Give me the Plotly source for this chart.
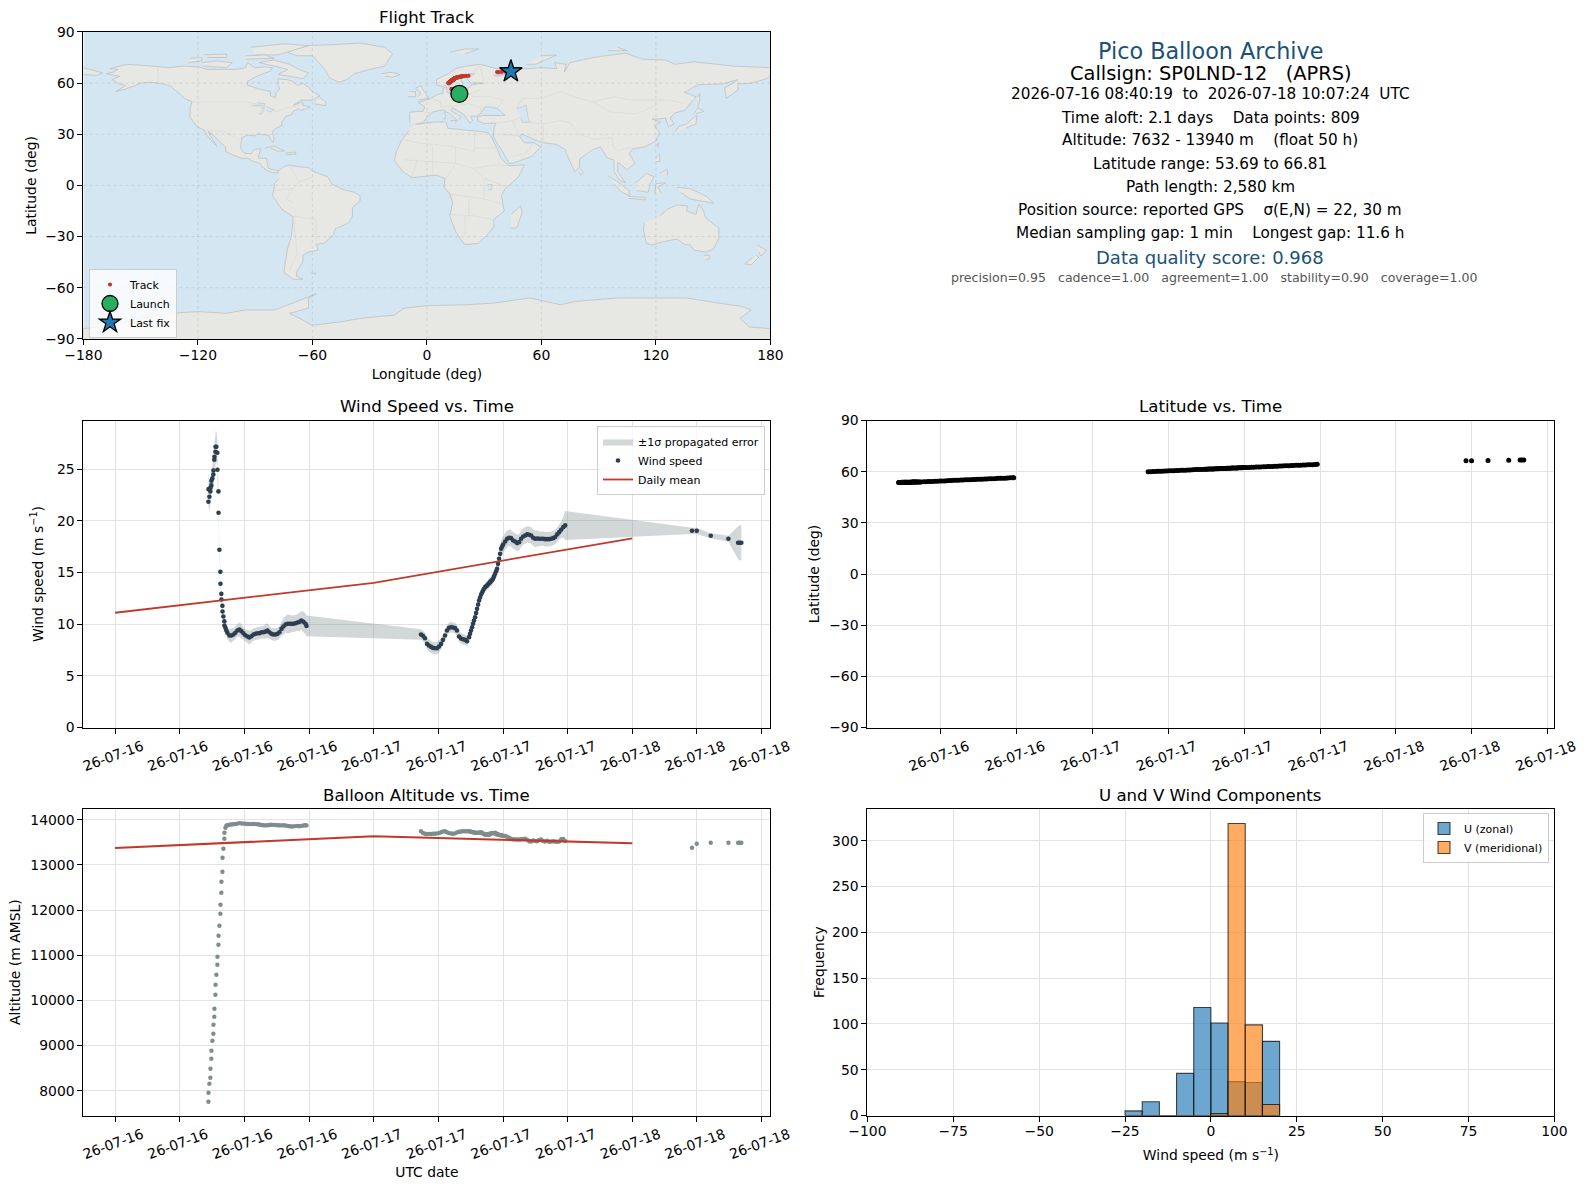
from datetime import datetime, timedelta
import plotly.graph_objects as go

W, H = 1588, 1189
FONT = "DejaVu Sans"

# ---------------- series (hours after 2026-07-16 00:00 UTC)
hours_ascent = [8.66,8.67,8.75,8.84,8.85,8.93,8.94,9.03,9.12,9.13,9.21,9.22,9.31,9.32,9.40,9.49,9.50,9.59,9.60,9.68,9.77,9.78,9.86,9.87,9.96,9.97,10.05,10.14,10.15,10.24,10.33]
hours_float1 = [10.42,10.61,10.79,10.98,11.16,11.35,11.54,11.72,11.91,12.09,12.28,12.46,12.65,12.84,13.02,13.21,13.39,13.58,13.76,13.95,14.14,14.32,14.51,14.69,14.88,15.07,15.25,15.44,15.62,15.81,15.99,16.18,16.37,16.55,16.74,16.92,17.11,17.29,17.48,17.67,17.76]
hours_float2 = [28.39,28.57,28.76,28.95,29.13,29.32,29.50,29.69,29.88,30.06,30.25,30.43,30.62,30.80,30.99,31.18,31.36,31.55,31.73,31.92,32.11,32.29,32.48,32.66,32.85,33.03,33.22,33.41,33.59,33.78,33.97,34.15,34.34,34.52,34.71,34.89,35.08,35.27,35.45,35.64,35.82,36.01,36.20,36.38,36.57,36.75,36.94,37.13,37.31,37.50,37.68,37.87,38.05,38.24,38.43,38.61,38.80,38.98,39.17,39.36,39.54,39.73,39.91,40.10,40.29,40.47,40.66,40.84,41.03,41.21,41.40,41.59,41.77]
hours_rise = [32.94,33.13,33.31,33.50,33.69,33.87,34.06,34.24,34.43,34.61,34.80,34.99,35.17,35.36,35.54,35.73,35.92]
hours_final = [53.54,53.98,55.28,56.92,57.82,57.95,58.12]

wind_ascent = [21.84,23.06,22.32,22.84,23.19,23.42,23.87,24.10,24.48,24.87,25.90,26.20,26.68,27.16,27.16,26.58,24.94,22.84,20.77,17.19,15.06,13.90,12.93,12.38,11.77,11.22,10.74,10.28,9.87,9.64,9.38]
wind_float1 = [9.16,8.90,8.90,9.00,9.16,9.38,9.48,9.32,9.12,8.93,8.80,8.70,8.83,9.00,9.06,9.12,9.12,9.22,9.22,9.28,9.38,9.22,9.06,9.00,9.00,9.06,9.22,9.54,9.77,9.96,10.03,10.03,10.03,10.03,10.09,10.16,10.22,10.35,10.22,10.03,9.83]
wind_float2 = [9.00,8.87,8.64,8.09,7.93,7.80,7.70,7.67,7.67,7.83,8.09,8.48,8.90,9.38,9.64,9.70,9.67,9.61,9.38,8.80,8.61,8.54,8.48,8.35,8.74,9.38,10.03,10.67,11.48,12.29,12.87,13.25,13.58,13.74,13.96,14.16,14.38,14.87,15.35,16.32,17.29,17.71,18.00,18.26,18.35,18.32,18.09,18.00,17.84,17.93,18.26,18.48,18.58,18.68,18.64,18.58,18.35,18.26,18.29,18.26,18.26,18.26,18.22,18.22,18.22,18.26,18.32,18.42,18.68,18.90,19.13,19.38,19.55]
wind_rise = [9.06,9.70,10.35,11.07,11.89,12.58,13.06,13.42,13.66,13.85,14.06,14.27,14.62,15.11,15.83,16.80,17.50]
wind_final = [19.03,19.03,18.55,18.26,17.87,17.87,17.87]

sigma_ascent = [1.5,1.6,1.4,1.3,1.2,1.2,1.2,1.2,1.3,1.3,1.4,1.4,1.5,1.5,1.5,1.3,1.0,0.7,0.5,0.4,0.3,0.3,0.3,0.3,0.3,0.3,0.3,0.3,0.4,0.5,0.5]
sigma_float1 = [.6,.6,.7,.6,.6,.6,.7,.7,.6,.6,.6,.7,.6,.6,.6,.6,.6,.6,.6,.7,.7,.6,.6,.6,.6,.6,.6,.7,.8,.8,.9,.9,.8,.8,.8,.8,.9,.9,1.0,1.0,1.0]
sigma_float2 = [.5,.5,.5,.5,.6,.6,.6,.6,.6,.6,.5,.5,.5,.5,.5,.5,.5,.5,.5,.5,.5,.5,.5,.5,.5,.4,.4,.4,.4,.4,.4,.4,.4,.4,.5,.5,.5,.5,.5,.6,.7,.8,.8,.8,.8,.8,.8,.8,.8,.8,.8,.8,.8,.8,.8,.8,.8,.8,.8,.7,.7,.7,.7,.7,.7,.7,.7,.7,.7,.7,.8,1.0,1.4]
sigma_rise = [.4,.4,.4,.4,.4,.4,.4,.4,.4,.5,.5,.5,.5,.5,.6,.6,.8]
sigma_final = [.3,.3,.25,.3,1.6,1.7,1.7]

alt_ascent = [7757,7956,8155,8288,8487,8708,8886,9107,9262,9461,9638,9815,10125,10347,10568,10790,10967,11233,11432,11653,11919,12118,12384,12627,12849,13159,13358,13579,13712,13823,13867]
alt_float1 = [13880,13889,13895,13900,13905,13915,13926,13920,13915,13911,13908,13905,13904,13905,13904,13900,13895,13885,13878,13875,13880,13885,13889,13888,13885,13880,13878,13875,13878,13872,13865,13858,13852,13855,13860,13862,13858,13866,13872,13878,13875]
alt_float2 = [13745,13710,13690,13685,13688,13685,13690,13690,13700,13705,13725,13740,13745,13725,13705,13695,13690,13700,13720,13735,13742,13745,13745,13745,13745,13735,13725,13715,13710,13715,13725,13695,13670,13680,13665,13690,13705,13715,13690,13670,13665,13650,13640,13625,13605,13580,13570,13565,13565,13565,13570,13575,13580,13560,13525,13520,13545,13530,13525,13555,13565,13530,13520,13535,13515,13520,13525,13520,13515,13520,13570,13575,13530]
alt_rise = [13740,13730,13720,13712,13712,13720,13710,13682,13672,13672,13698,13710,13702,13680,13667,13658,13645]
alt_final = [13380,13469,13491,13491,13491,13491,13491]

lat_ascent = [53.69,53.70,53.71,53.72,53.72,53.73,53.74,53.75,53.76,53.77,53.78,53.79,53.80,53.81,53.82,53.83,53.84,53.85,53.86,53.87,53.88,53.89,53.90,53.91,53.92,53.93,53.94,53.95,53.96,53.97,53.98]
lat_float1 = [54.0,54.1,54.1,54.2,54.2,54.3,54.4,54.4,54.5,54.6,54.6,54.7,54.8,54.8,54.9,54.9,55.0,55.1,55.1,55.2,55.2,55.3,55.4,55.4,55.5,55.6,55.6,55.7,55.7,55.8,55.9,55.9,56.0,56.1,56.1,56.2,56.2,56.3,56.4,56.4,56.5]
lat_float2 = [60.0,60.0,60.1,60.1,60.2,60.3,60.3,60.4,60.4,60.5,60.6,60.6,60.7,60.7,60.8,60.9,60.9,61.0,61.0,61.1,61.2,61.2,61.3,61.3,61.4,61.4,61.5,61.6,61.6,61.7,61.7,61.8,61.9,61.9,62.0,62.0,62.1,62.2,62.2,62.3,62.3,62.4,62.4,62.5,62.6,62.6,62.7,62.7,62.8,62.9,62.9,63.0,63.0,63.1,63.2,63.2,63.3,63.3,63.4,63.4,63.5,63.6,63.6,63.7,63.7,63.8,63.9,63.9,64.0,64.0,64.1,64.2,64.3]
lat_rise = [61.4,61.5,61.5,61.6,61.7,61.7,61.8,61.9,61.9,62.0,62.0,62.1,62.2,62.2,62.3,62.3,62.4]
lat_final = [66.45,66.46,66.50,66.70,66.81,66.81,66.81]

lon_ascent = [17.0,17.0,17.0,17.0,17.0,17.0,17.0,17.0,17.0,17.0,17.0,17.0,17.0,17.0,17.0,17.0,17.0,17.0,17.0,17.0,17.0,17.0,17.0,17.0,17.0,17.0,17.0,17.0,17.0,17.0,17.0]
lon_float1 = [16.9,16.8,16.7,16.6,16.5,16.4,16.3,16.2,16.1,16.0,15.9,15.8,15.7,15.6,15.5,15.4,15.3,15.2,15.1,15.0,14.9,14.8,14.7,14.6,14.5,14.4,14.3,14.2,14.1,14.0,13.9,13.8,13.7,13.6,13.5,13.4,13.3,13.2,13.1,13.0,12.9]
lon_float2 = [11.3,11.3,11.4,11.5,11.6,11.7,11.7,11.8,11.8,11.9,12.0,12.0,12.1,12.2,12.3,12.4,12.4,12.5,12.5,12.6,12.7,12.7,12.9,12.9,13.0,13.0,13.1,13.2,13.2,13.4,13.4,13.5,13.6,13.6,13.7,13.7,13.8,13.9,13.9,14.0,14.0,14.1,14.1,14.3,14.4,14.4,14.6,14.6,14.7,14.9,14.9,15.0,15.0,15.3,15.6,15.6,15.9,15.9,16.2,16.2,16.5,16.9,16.9,17.3,17.3,17.7,18.2,18.2,18.8,18.8,19.6,20.6,21.8]
lon_rise = [13.0,13.1,13.1,13.2,13.4,13.4,13.5,13.6,13.6,13.7,13.7,13.8,13.9,13.9,14.0,14.0,14.1]
lon_final = [36.8,37.6,39.0,41.0,43.0,43.5,44.0]

records = sorted(zip(hours_ascent + hours_float1 + hours_float2 + hours_rise + hours_final,
                     wind_ascent + wind_float1 + wind_float2 + wind_rise + wind_final,
                     sigma_ascent + sigma_float1 + sigma_float2 + sigma_rise + sigma_final,
                     alt_ascent + alt_float1 + alt_float2 + alt_rise + alt_final,
                     lat_ascent + lat_float1 + lat_float2 + lat_rise + lat_final,
                     lon_ascent + lon_float1 + lon_float2 + lon_rise + lon_final), key=lambda r: r[0])
hours, wind, sigma, altitude, latitude, longitude = [list(c) for c in zip(*records)]

daily_dates = ["2026-07-16", "2026-07-17", "2026-07-18"]
daily_wind = [11.1, 14.0, 18.3]
daily_alt = [13375, 13635, 13480]

launch_pos = (17.0, 53.69)
last_pos = (44.0, 66.81)

hist_centers = [-22.5, -17.5, -12.5, -7.5, -2.5, 2.5, 7.5, 12.5, 17.5]
hist_u = [5, 15, 0, 46, 118, 101, 37, 36, 81]
hist_v = [0, 0, 0, 0, 0, 2, 319, 99, 12]

tick_text_16 = "26-07-16"
tick_text_17 = "26-07-17"
tick_text_18 = "26-07-18"
left_tick_dates = ["2026-07-16 00:00","2026-07-16 06:00","2026-07-16 12:00","2026-07-16 18:00","2026-07-17 00:00","2026-07-17 06:00","2026-07-17 12:00","2026-07-17 18:00","2026-07-18 00:00","2026-07-18 06:00","2026-07-18 12:00"]
left_tick_text = [tick_text_16]*4 + [tick_text_17]*4 + [tick_text_18]*3
right_tick_dates = left_tick_dates[2:]
right_tick_text = left_tick_text[2:]

lon_ticks = [-180,-120,-60,0,60,120,180]
lat_ticks = [-90,-60,-30,0,30,60,90]

# ---------------- land outlines (lon, lat)
north_america = [(-168,65.5),(-164,66.5),(-162,68),(-166,68.5),(-157,71),(-150,70.5),(-141,69.7),(-135,69),(-128,70),(-120,69.5),(-115,68),(-108,68),(-100,68),(-95,69),(-94,72),(-90,69),(-85,69.5),(-81,69),(-82,67),(-87,65),(-90,63.5),(-94,61),(-94,58.7),(-88,56.5),(-82,55),(-82,52.5),(-79.5,51.5),(-79,54.5),(-77,56.5),(-78,58.5),(-78,62.4),(-73,62),(-70,61),(-68,58.5),(-65,60),(-62,57.5),(-60,55),(-56,52.5),(-60,50),(-66,50),(-70,47),(-65,49),(-65,47),(-61,46),(-66,44),(-67,45),(-70,43.5),(-71,41.5),(-74,40.5),(-76,37),(-76,35),(-79,33.5),(-81,31.5),(-80,27),(-80.5,25.2),(-82,27),(-83,29.5),(-85,29.7),(-89,30.3),(-90,29),(-94,29.5),(-97,28),(-97.5,24),(-97.5,21.5),(-95.5,18.8),(-92,18.5),(-90.5,21),(-87,21.5),(-88,18),(-88.5,16),(-84,15.8),(-83.5,12),(-83,10),(-80,9),(-77.5,8.7),(-78,7.5),(-80.5,7.3),(-83,8.3),(-85.5,10),(-87.5,13),(-91,14),(-94,16),(-97,15.8),(-102,18),(-105.5,20),(-105.5,22.5),(-109,26),(-112.5,30),(-114.7,31.5),(-113,28),(-110,23),(-112,25),(-115,29),(-117,32.5),(-120.5,34.5),(-122.5,37.5),(-124.3,40.5),(-124,46),(-123,49),(-127,51),(-130,54),(-134,58),(-138,59.5),(-145,60.5),(-150,60),(-153,58.5),(-158,56.5),(-163,55),(-158,58.5),(-162,60),(-165,62),(-161,64),(-168,65.5)]
greenland = [(-73,78),(-68,76),(-60,76),(-55,70),(-53,67),(-51,63),(-46,60.5),(-42,62),(-38,65.5),(-30,68),(-22,70),(-20,74),(-18,77),(-22,81),(-35,83.5),(-50,82.5),(-62,82),(-73,78.5)]
baffin = [(-80,73.5),(-72,71),(-66,67.5),(-62,66),(-65,62.5),(-72,64),(-78,65),(-73,68),(-80,70),(-88,72),(-80,73.5)]
victoria_is = [(-117,70),(-105,69),(-102,72),(-110,73),(-118,72)]
ellesmere = [(-90,76.5),(-78,76.5),(-62,82),(-75,83),(-92,81)]
banks_is = [(-125,72),(-118,73),(-118,75),(-124,74.5)]
devon_is = [(-95,74),(-80,74.5),(-85,76.5),(-95,76)]
melville_is = [(-115,75),(-105,75),(-105,77),(-117,76.5)]
newfoundland = [(-59,47.8),(-53,46.8),(-53,49),(-56,51.5)]
cuba = [(-85,22),(-80,23),(-74.5,20.2),(-78,20),(-82,22)]
hispaniola = [(-74,19),(-69,19.5),(-68.5,18.3),(-74,18)]
iceland = [(-24,65.5),(-18,66.3),(-14,65),(-18,63.5),(-22,64)]
britain = [(-5,50),(1,51),(0,53),(-2,56),(-3,58.5),(-6,57),(-3,54),(-5,52)]
ireland = [(-10,52),(-6,52),(-6,55),(-9,55)]
svalbard = [(12,78),(20,80),(27,80),(20,77)]
novaya_zemlya = [(52,71),(57,71),(68,76.5),(60,76)]
severnaya = [(95,79),(105,79),(100,81)]
south_america = [(-77.5,8.7),(-75,11),(-72,12),(-68,11),(-62,10.5),(-60,8.5),(-52,5),(-50,1),(-44,-2.5),(-38,-4),(-35,-6),(-35,-9),(-39,-13),(-39,-18),(-41,-22),(-48,-25.5),(-49,-29),(-54,-34),(-58,-34.5),(-57,-38),(-62,-39),(-65,-41),(-65,-45),(-68,-50),(-68.5,-53),(-65,-55),(-70,-55),(-75,-51),(-74,-44),(-73,-37),(-71,-30),(-70,-18.5),(-76,-14),(-81,-6),(-80,-2),(-80,1),(-77.5,4)]
africa = [(-6,35.8),(3,37),(10,37.3),(11,33.5),(20,32.5),(25,32),(32,31),(34,28),(37,21),(39,15.5),(43,11.5),(51,12),(48,5),(41,-2),(39,-6),(40.5,-15),(35,-20),(35,-24),(32.5,-28),(27,-34),(20,-34.8),(18,-32),(15,-27),(12,-18),(13.5,-10),(12,-5),(9,-1),(9.5,4),(5,6),(-4,5),(-8,4.5),(-13,8.5),(-17,14.7),(-16,20),(-13,27),(-9.5,32)]
madagascar = [(44,-25),(47,-25),(50,-16),(49,-12),(44,-17)]
eurasia = [(-9,37),(-9,43),(-2,43.5),(-1,46),(-4.5,48.5),(2,51),(6,53.5),(8.5,54),(8.5,57),(10.5,57.5),(10.5,54.5),(14,54),(19,54.5),(21,56.5),(24,59.2),(30,60),(23,60),(21,62.5),(25,65.5),(22,65.5),(17.5,62),(19,59.5),(16.5,56.5),(13,55.5),(11,59),(8,58),(5,59),(5,62),(12,66),(15,68.5),(21,70),(28,71),(33,69.5),(41,67),(40,65),(35,64.5),(37,64),(44,66),(44,68),(54,68.5),(60,69),(68,68.5),(67,72),(73,71),(72,66.5),(75,72),(81,73.5),(90,75.5),(104,77.5),(113,74),(125,73.5),(130,71),(140,72.5),(160,70),(170,69.5),(180,69),(180,65),(178,62.5),(170,60),(163,59.5),(163,56),(157,51),(156,57),(163,62),(155,59.5),(142,59),(135,54.5),(141,52),(135,44),(130,42.5),(127.5,39.5),(129.5,36),(126.5,34.5),(125,39.5),(121,39),(118,39),(122.5,37),(119,35),(122,31),(120,26),(114,22.5),(108,21.5),(106,19),(109,13),(105,9),(103,11),(100,13.5),(100,8),(104,1.5),(101,3),(98,8),(98,15),(94.5,16),(91,22.5),(87,21),(80,15.5),(80,11),(77.5,8),(73,19),(72.5,21),(68,24),(61,25),(57,26.5),(50,30),(48.5,29),(51,25),(56,25),(59.5,22.5),(55,17),(45,13),(43,13),(39,21),(35,28),(35,32),(36,36.5),(30,36.3),(26.5,38),(26.5,40),(29,41),(41,41),(37,45),(33,46),(30.5,46),(28,42),(26,40.7),(23,40.5),(24,38),(22.5,36.5),(19.5,41.5),(13.5,45.5),(12.5,44),(18,40),(16,38),(12,42),(8.5,44.3),(3,43),(0,40),(-2,36.8),(-5.5,36)]
chukotka = [(-180,69),(-170,66),(-173,64.5),(-180,65)]
honshu = [(130,31.5),(132,34.5),(136,36),(140,40),(141.5,41),(141,36),(136,33.8)]
hokkaido = [(140,42),(142,45.5),(145,43.5),(141,42)]
sakhalin = [(142,46),(143,50),(143,54),(142,52)]
taiwan = [(120,23),(121.5,25),(121,22)]
sri_lanka = [(80,9.7),(82,7.5),(80.5,6),(79.7,8)]
luzon = [(120,16),(122,18.5),(122,14),(120,14)]
mindanao = [(122,7),(126,9.5),(126,6)]
borneo = [(109,1),(115,7),(119,5),(117,1),(116,-4),(110,-3)]
sumatra = [(95,5.5),(100,2),(106,-3),(106,-6),(102,-4),(98,1)]
java = [(105.5,-6.5),(114,-7),(114.5,-8.5),(106,-7.7)]
sulawesi = [(119.5,-5),(120,1),(125,1.5),(121,-1),(123,-5)]
new_guinea = [(131,-1),(138,-2),(146,-6),(150.5,-10.5),(143,-9),(138,-8),(133,-4)]
australia = [(114,-22),(113.5,-26),(115,-34),(118,-35),(124,-33),(131,-31.5),(135,-34.5),(138,-35),(140,-38),(146,-39),(150,-37.5),(153,-31),(153,-25),(146,-19),(145,-15),(142.5,-11),(141,-17),(136,-15),(136.5,-12),(131,-11.5),(126,-14),(122,-18)]
tasmania = [(145,-41),(148,-41),(148,-43),(146,-43.5)]
nz_north = [(173,-35),(178,-38),(175,-41.5),(174,-39)]
nz_south = [(172.5,-41),(174,-42),(170,-46.5),(166.5,-46),(171,-42)]
sicily = [(12.5,38),(15.5,38),(15,36.7)]
sardinia = [(8.5,39),(9.7,39),(9.5,43),(8.7,42)]
falklands = [(-61,-51.5),(-58,-51.5),(-59,-52.3)]
antarctica = [(-180,-90),(-180,-84),(-165,-82),(-150,-78),(-135,-75),(-120,-74),(-105,-75),(-95,-73),(-80,-73),(-75,-71),(-68,-68),(-58,-63.5),(-62,-66),(-62,-72),(-72,-75),(-65,-79),(-60,-82),(-45,-80),(-35,-78),(-17,-76),(-12,-72),(0,-70.5),(20,-70),(35,-69),(54,-66),(70,-70),(78,-68),(100,-66),(136,-66),(150,-68.5),(165,-71),(170,-73),(164,-78),(169,-83),(180,-84),(180,-90)]
land_shapes = [north_america, greenland, baffin, victoria_is, ellesmere, banks_is, devon_is, melville_is, newfoundland, cuba, hispaniola, iceland, britain, ireland, svalbard, novaya_zemlya, severnaya, south_america, africa, madagascar, eurasia, chukotka, honshu, hokkaido, sakhalin, taiwan, sri_lanka, luzon, mindanao, borneo, sumatra, java, sulawesi, new_guinea, australia, tasmania, nz_north, nz_south, sicily, sardinia, falklands, antarctica]

caspian = [(47,45),(52,47),(53,40),(54,37),(50,37),(49,40)]
superior = [(-92,46.7),(-85,46.7),(-85,48),(-89,48.5)]
michigan = [(-88,42),(-86.5,42),(-85,45.5),(-87,45.5)]
huron = [(-84,46),(-80,44.5),(-82,43),(-84,44)]
lake_victoria = [(32,-2.5),(34,-2.5),(34,0.5),(32,0.5)]
water_shapes = [caspian, superior, michigan, huron, lake_victoria]

border_lines = [
    [(-123,49),(-95,49),(-83,46),(-79,43),(-75,45),(-67,47)], [(-117,32.5),(-106,31.5),(-97,26)], [(-141,69.7),(-141,60)],
    [(87,49),(98,52),(107,50),(120,50),(127,50),(135,48)], [(87,49),(96,43),(110,42),(120,47)], [(50,51),(60,51),(70,55),(80,51),(87,49)],
    [(45,38),(48,30)], [(61,25),(61,36),(70,38),(75,37),(80,30),(88,27),(97,28),(98,22),(100,20),(105,22),(108,21.5)],
    [(50,51),(47,45)], [(54,37),(61,36)], [(36,36.5),(45,38),(49,40)], [(39,30),(48,29)], [(45,17),(52,19),(56,25)],
    [(-13,27),(-5,25),(12,23),(25,20),(25,32)], [(25,22),(36,22)], [(15,23),(15,13),(10,4)], [(24,10),(30,4),(42,-1)], [(12,-5),(30,-8),(40,-11)],
    [(12,-17),(25,-18),(35,-20)], [(20,-29),(20,-18)], [(-12,15),(15,13),(24,10),(36,12),(43,11.5)], [(-8,4.5),(-5,15)], [(3,6),(3,23)], [(30,4),(30,-8)], [(22,-18),(22,-8)],
    [(-70,-18),(-58,-20),(-58,-34)], [(-70,-10),(-74,-8),(-70,-2),(-67,2),(-60,5)], [(-70,-18),(-68,-40),(-72,-50)], [(-80,-3),(-70,-2)], [(-72,12),(-67,2)],
    [(-1.5,43),(3,42.5)], [(2.5,51),(7,49),(7.5,46),(14,46.5),(22,48),(28,45.5),(29,41)], [(14,54),(15,51),(22,49.5),(24,52),(23,54),(28,56)], [(30,60),(28,70)], [(24,66),(28,70)], [(12,60),(15,68.5)],
    [(24,52),(33,52),(40,50),(37,45)],
]

# ---------------- text
info_title = "Pico Balloon Archive"
info_call = "Callsign: SP0LND-12\u00a0\u00a0\u00a0(APRS)"
info_lines = [
    "2026-07-16 08:40:19\u00a0\u00a0to\u00a0\u00a02026-07-18 10:07:24\u00a0\u00a0UTC",
    "Time aloft: 2.1 days\u00a0\u00a0\u00a0\u00a0Data points: 809",
    "Altitude: 7632 - 13940 m\u00a0\u00a0\u00a0\u00a0(float 50 h)",
    "Latitude range: 53.69 to 66.81",
    "Path length: 2,580 km",
    "Position source: reported GPS\u00a0\u00a0\u00a0\u00a0\u03c3(E,N) = 22, 30 m",
    "Median sampling gap: 1 min\u00a0\u00a0\u00a0\u00a0Longest gap: 11.6 h",
]
info_score = "Data quality score: 0.968"
info_parts = "precision=0.95\u00a0\u00a0\u00a0cadence=1.00\u00a0\u00a0\u00a0agreement=1.00\u00a0\u00a0\u00a0stability=0.90\u00a0\u00a0\u00a0coverage=1.00"

# ---------------- styling and helpers
C_DARK, C_GREY, C_RED = "#2c3e50", "#7f8c8d", "#c0392b"
C_BLUE_T = "#1a5276"
GRID = "#e2e2e2"
BASE = datetime(2026, 7, 16)
times = [(BASE + timedelta(hours=h)).strftime("%Y-%m-%d %H:%M:%S") for h in hours]

def dx(a, b): return [a / W, b / W]
def dy(top, bottom): return [1 - bottom / H, 1 - top / H]

COL_L, COL_R = (83.4, 770.4), (867.4, 1554.4)
ROW_1, ROW_2, ROW_3 = (31.9, 338.9), (420.5, 727.5), (808.8, 1115.5)

def axis(domain, anchor, title=None, standoff=6, **kw):
    d = dict(domain=domain, anchor=anchor, showline=True, mirror=True, linecolor="black", linewidth=1.1,
             ticks="outside", ticklen=5, tickwidth=1.1, tickcolor="black", showgrid=True, gridcolor=GRID,
             gridwidth=1, zeroline=False, tickfont=dict(family=FONT, size=13.9, color="black"), automargin=False)
    if title:
        d["title"] = dict(text=title, standoff=standoff, font=dict(family=FONT, size=13.9, color="black"))
    d.update(kw)
    return d

LABEL_SHIFT = 27
LEFT_RANGE = ["2026-07-15 21:03:30", "2026-07-18 12:49:00"]
RIGHT_RANGE = ["2026-07-16 06:11:00", "2026-07-18 12:32:00"]

def date_axis(domain, anchor, rng, vals, text, title=None):
    return axis(domain, anchor, title=title, standoff=6, type="date", range=rng, tickmode="array", tickvals=vals,
                ticktext=text, tickangle=-20, ticklabelshift=LABEL_SHIFT)

fig = go.Figure()

# map
for shape in land_shapes:
    fig.add_trace(go.Scatter(x=[p[0] for p in shape], y=[p[1] for p in shape], mode="lines", fill="toself",
                             fillcolor="#e7e7e3", line=dict(color="#bcc1c4", width=0.8, simplify=False), showlegend=False,
                             hoverinfo="skip", xaxis="x", yaxis="y"))
for shape in water_shapes:
    fig.add_trace(go.Scatter(x=[p[0] for p in shape], y=[p[1] for p in shape], mode="lines", fill="toself",
                             fillcolor="#d4e6f1", line=dict(color="#bcc1c4", width=0.6, simplify=False), showlegend=False,
                             hoverinfo="skip", xaxis="x", yaxis="y"))
bx, by = [], []
for line in border_lines:
    bx += [p[0] for p in line] + [None]
    by += [p[1] for p in line] + [None]
fig.add_trace(go.Scatter(x=bx, y=by, mode="lines", line=dict(color="#d9dad7", width=0.7, simplify=False), showlegend=False,
                         hoverinfo="skip", xaxis="x", yaxis="y"))
gx, gy = [], []
for v in lon_ticks[1:-1]:
    gx += [v, v, None]; gy += [lat_ticks[0], lat_ticks[-1], None]
for v in lat_ticks[1:-1]:
    gx += [lon_ticks[0], lon_ticks[-1], None]; gy += [v, v, None]
fig.add_trace(go.Scatter(x=gx, y=gy, mode="lines", line=dict(color="rgba(120,120,120,0.3)", width=0.6, dash="dot"),
                         showlegend=False, hoverinfo="skip", xaxis="x", yaxis="y"))
fig.add_trace(go.Scatter(x=longitude, y=latitude, mode="markers", name="Track", marker=dict(color=C_RED, size=4.2),
                         xaxis="x", yaxis="y", legend="legend"))
fig.add_trace(go.Scatter(x=[launch_pos[0]], y=[launch_pos[1]], mode="markers", name="Launch", xaxis="x", yaxis="y", legend="legend",
                         marker=dict(color="#27ae60", size=17, symbol="circle", line=dict(color="black", width=1.3))))
fig.add_trace(go.Scatter(x=[last_pos[0]], y=[last_pos[1]], mode="markers", name="Last fix", xaxis="x", yaxis="y", legend="legend",
                         marker=dict(color="#1f78b4", size=17, symbol="star", line=dict(color="black", width=1.3))))

# wind
upper = [w + s for w, s in zip(wind, sigma)]
lower = [w - s for w, s in zip(wind, sigma)]
fig.add_trace(go.Scatter(x=times + times[::-1], y=upper + lower[::-1], mode="lines", fill="toself", name="\u00b11\u03c3 propagated error",
                         fillcolor="rgba(127,140,141,0.35)", line=dict(width=0, color="rgba(127,140,141,0.35)", simplify=False), xaxis="x2", yaxis="y2", legend="legend2"))
fig.add_trace(go.Scatter(x=times, y=wind, mode="markers", name="Wind speed", marker=dict(color=C_DARK, size=4.6), xaxis="x2", yaxis="y2", legend="legend2"))
fig.add_trace(go.Scatter(x=daily_dates, y=daily_wind, mode="lines", name="Daily mean", line=dict(color=C_RED, width=1.8), xaxis="x2", yaxis="y2", legend="legend2"))

# latitude
fig.add_trace(go.Scatter(x=times, y=latitude, mode="markers", marker=dict(color="black", size=5), showlegend=False, xaxis="x3", yaxis="y3"))

# altitude
fig.add_trace(go.Scatter(x=times, y=altitude, mode="markers", marker=dict(color=C_GREY, size=4.4), showlegend=False, xaxis="x4", yaxis="y4"))
fig.add_trace(go.Scatter(x=daily_dates, y=daily_alt, mode="lines", line=dict(color=C_RED, width=2.1), showlegend=False, xaxis="x4", yaxis="y4"))

# histogram
fig.add_trace(go.Bar(x=hist_centers, y=hist_u, width=5, name="U (zonal)", xaxis="x5", yaxis="y5", legend="legend3",
                     marker=dict(color="rgba(31,119,180,0.65)", line=dict(color="rgba(0,0,0,0.7)", width=1.1))))
fig.add_trace(go.Bar(x=hist_centers, y=hist_v, width=5, name="V (meridional)", xaxis="x5", yaxis="y5", legend="legend3",
                     marker=dict(color="rgba(255,127,14,0.65)", line=dict(color="rgba(0,0,0,0.7)", width=1.1))))

def ann(text, px, py, size, color="black"):
    return dict(text=text, x=px / W, y=1 - py / H, xref="paper", yref="paper", xanchor="center", yanchor="middle",
                showarrow=False, font=dict(family=FONT, size=size, color=color))

annotations = [
    ann("Flight Track", 427, 18, 16.6), ann("Wind Speed vs. Time", 427, 406, 16.6), ann("Balloon Altitude vs. Time", 427, 795, 16.6),
    ann("Latitude vs. Time", 1210, 406, 16.6), ann("U and V Wind Components", 1210, 795, 16.6),
    ann(info_title, 1210.5, 50.5, 22.3, C_BLUE_T), ann(info_call, 1211, 73.5, 19.4),
    ann(info_score, 1210, 257, 18, C_BLUE_T), ann(info_parts, 1214.5, 278, 12.55, "#555555"),
]
for text, py in zip(info_lines, [94.5, 118, 140.5, 163.5, 187, 209.5, 233]):
    annotations.append(ann(text, 1210, py, 15.25))

def legend(xp, yp, xanchor, yanchor):
    return dict(x=xp / W, y=1 - yp / H, xanchor=xanchor, yanchor=yanchor, xref="paper", yref="paper",
                font=dict(family=FONT, size=11, color="black"), bgcolor="rgba(255,255,255,0.8)",
                bordercolor="#cccccc", borderwidth=1, tracegroupgap=0, itemwidth=30)

fig.update_layout(
    width=W, height=H, margin=dict(l=0, r=0, t=0, b=0), paper_bgcolor="white", plot_bgcolor="white",
    barmode="overlay", font=dict(family=FONT, size=13.9, color="black"), showlegend=True, annotations=annotations,
    shapes=[dict(type="rect", xref="x", yref="y", x0=lon_ticks[0], x1=lon_ticks[-1], y0=lat_ticks[0], y1=lat_ticks[-1],
                 fillcolor="#d4e6f1", line=dict(width=0), layer="below")],
    xaxis=axis(dx(*COL_L), "y", title="Longitude (deg)", standoff=7, range=[lon_ticks[0], lon_ticks[-1]], tickmode="array", tickvals=lon_ticks, showgrid=False, ticklabelstandoff=-2),
    yaxis=axis(dy(*ROW_1), "x", title="Latitude (deg)", standoff=5, range=[lat_ticks[0], lat_ticks[-1]], tickmode="array", tickvals=lat_ticks, showgrid=False),
    xaxis2=date_axis(dx(*COL_L), "y2", LEFT_RANGE, left_tick_dates, left_tick_text),
    yaxis2=axis(dy(*ROW_2), "x2", title="Wind speed (m s<sup>\u22121</sup>)", standoff=10, range=[0, 29.7], tickmode="array", tickvals=[0,5,10,15,20,25]),
    xaxis3=date_axis(dx(*COL_R), "y3", RIGHT_RANGE, right_tick_dates, right_tick_text),
    yaxis3=axis(dy(*ROW_2), "x3", title="Latitude (deg)", standoff=6, range=[-90, 90], tickmode="array", tickvals=lat_ticks),
    xaxis4=date_axis(dx(*COL_L), "y4", LEFT_RANGE, left_tick_dates, left_tick_text, title="UTC date"),
    yaxis4=axis(dy(*ROW_3), "x4", title="Altitude (m AMSL)", standoff=6, range=[7453, 14243], tickmode="array", tickvals=[8000,9000,10000,11000,12000,13000,14000], tickformat="d"),
    xaxis5=axis(dx(*COL_R), "y5", title="Wind speed (m s<sup>\u22121</sup>)", standoff=12, range=[-100, 100], tickmode="array", tickvals=[-100,-75,-50,-25,0,25,50,75,100], ticklabelstandoff=-2),
    yaxis5=axis(dy(*ROW_3), "x5", title="Frequency", standoff=4, range=[0, 335], tickmode="array", tickvals=[0,50,100,150,200,250,300]),
    legend=legend(89, 338, "left", "bottom"),
    legend2=legend(765, 426, "right", "top"),
    legend3=legend(1549, 813, "right", "top"),
)

fig.write_html("out.html", config={"displayModeBar": False},
               post_script="document.body.style.margin='0';document.documentElement.style.overflow='hidden';")
